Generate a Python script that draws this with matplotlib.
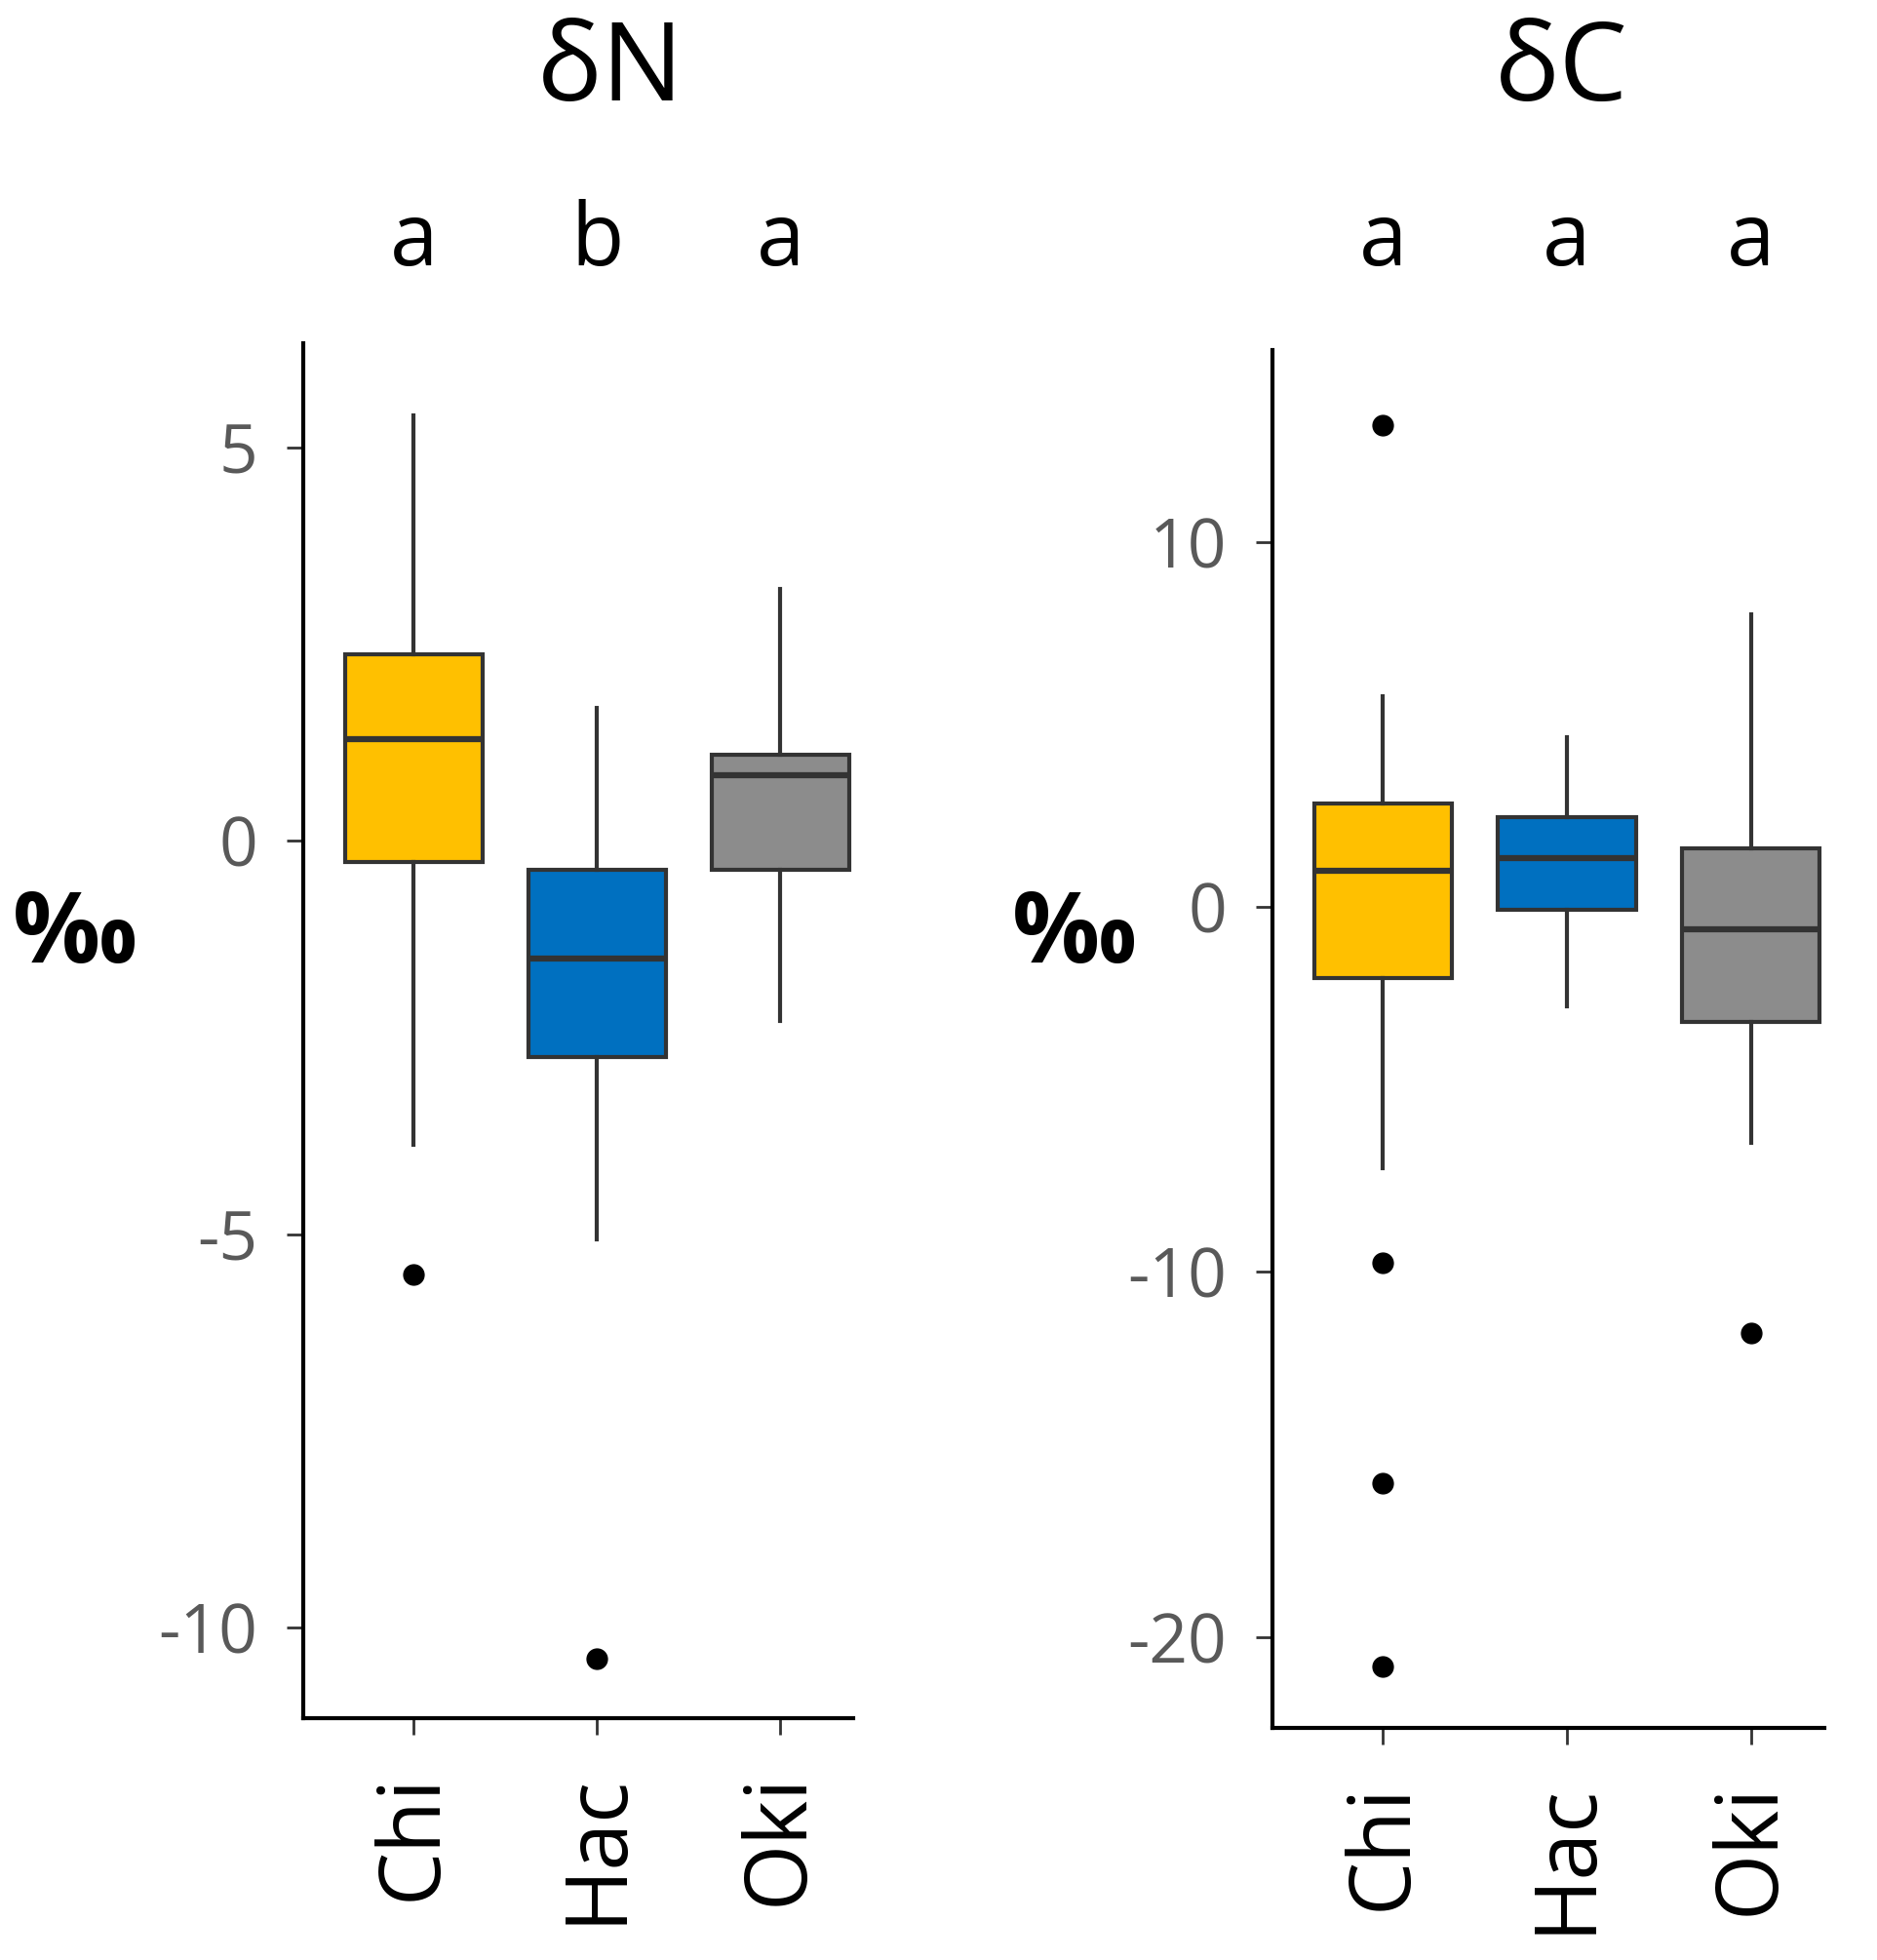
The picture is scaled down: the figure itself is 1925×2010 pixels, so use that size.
import matplotlib
matplotlib.use('Agg')
import matplotlib.pyplot as plt

# ---- Data ----
groups = ['Chi', 'Hac', 'Oki']
colors = ['#FFC000', '#0070C0', '#8C8C8C']

n_whislo = [-3.86, -5.07, -2.29]
n_q1 = [-0.27, -2.75, -0.37]
n_med = [1.29, -1.49, 0.84]
n_q3 = [2.38, -0.37, 1.10]
n_whishi = [5.42, 1.69, 3.20]
n_fliers = [[-5.52], [-10.40], []]
n_letters = ['a', 'b', 'a']

c_whislo = [-7.16, -2.71, -6.47]
c_q1 = [-1.95, -0.07, -3.15]
c_med = [0.99, 1.34, -0.62]
c_q3 = [2.84, 2.47, 1.61]
c_whishi = [5.79, 4.66, 8.01]
c_fliers = [[13.22, -9.76, -15.79, -20.82], [], [-11.68]]
c_letters = ['a', 'a', 'a']

plt.rcParams['font.family'] = ['Open Sans', 'DejaVu Sans']

fig = plt.figure(figsize=(19.25, 20.1), dpi=100)
ax1 = fig.add_axes([0.1617, 0.1233, 0.2930, 0.7015])
ax2 = fig.add_axes([0.6780, 0.1183, 0.2940, 0.7032])


def draw(ax, lo, q1, med, q3, hi, fl, letters, title, ylim, yticks, title_x, unit_x):
    stats = []
    for i in range(len(groups)):
        stats.append(dict(label=groups[i], whislo=lo[i], q1=q1[i], med=med[i],
                          q3=q3[i], whishi=hi[i], fliers=fl[i]))
    bp = ax.bxp(stats, positions=[1, 2, 3], widths=0.75, patch_artist=True,
                showcaps=False,
                boxprops=dict(edgecolor='#333333', linewidth=3.0),
                medianprops=dict(color='#333333', linewidth=4.5),
                whiskerprops=dict(color='#333333', linewidth=3.0),
                flierprops=dict(marker='o', markerfacecolor='black',
                                markeredgecolor='black', markersize=15))
    for patch, c in zip(bp['boxes'], colors):
        patch.set_facecolor(c)
    ax.set_xlim(0.4, 3.4)
    ax.set_ylim(*ylim)
    ax.set_yticks(yticks)
    ax.set_yticklabels([str(t) for t in yticks])
    for s in ['top', 'right']:
        ax.spines[s].set_visible(False)
    for s in ['left', 'bottom']:
        ax.spines[s].set_linewidth(3.0)
        ax.spines[s].set_color('black')
    ax.tick_params(axis='y', labelsize=50, labelcolor='#595959', color='#333333',
                   length=12, width=2, pad=22)
    ax.tick_params(axis='x', labelsize=63, labelcolor='black', color='#333333',
                   length=12, width=2, pad=28, labelrotation=90)
    for i, l in enumerate(letters):
        ax.annotate(l, xy=(i + 1, 0.876), xycoords=('data', 'figure fraction'),
                    ha='center', va='center', fontsize=64)
    fig.text(title_x, 0.963, title, ha='center', va='center', fontsize=80)
    fig.text(unit_x, 0.522, '‰', ha='center', va='center', fontsize=72,
             fontweight='bold')


draw(ax1, n_whislo, n_q1, n_med, n_q3, n_whishi, n_fliers, n_letters,
     'δN', (-11.16, 6.33), [5, 0, -5, -10], 0.325, 0.040)
draw(ax2, c_whislo, c_q1, c_med, c_q3, c_whishi, c_fliers, c_letters,
     'δC', (-22.5, 15.27), [10, 0, -10, -20], 0.832, 0.5725)

fig.savefig('out.png', dpi=100)
